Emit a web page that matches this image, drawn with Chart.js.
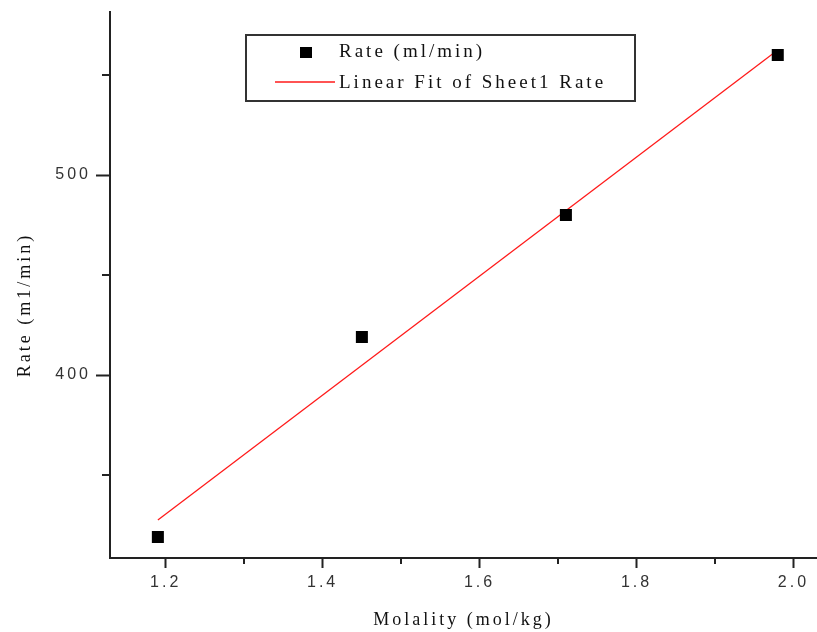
<!DOCTYPE html>
<html>
<head>
<meta charset="utf-8">
<script src="https://cdn.jsdelivr.net/npm/chart.js@4.4.1/dist/chart.umd.min.js"></script>
<style>
  html, body { margin: 0; padding: 0; background: #fff; }
  #wrap { width: 817px; height: 632px; }
</style>
</head>
<body>
<div id="wrap"><canvas id="rateChart"></canvas></div>
<script>
// measured rate against molality
const molality = [1.19, 1.45, 1.71, 1.98];
const rate = [319, 419, 480, 560];

// straight-line fit, two end points
const fitX = [1.19, 1.98];
const fitY = [327.5, 562.5];

const xTicks = [1.2, 1.4, 1.6, 1.8, 2.0];
const xMinor = [1.3, 1.5, 1.7, 1.9];
const yTicks = [400, 500];
const yMinor = [350, 450, 550];

const yTitle = 'Rate (m1/min)';

const axisColor = '#222';
const labelColor = '#333';
const serif = "'Liberation Serif', 'Times New Roman', serif";
const sans = "'Liberation Sans', Arial, sans-serif";

// wide, loosely spaced lettering for every label
const spacing = {
    id: 'spacing',
    beforeDraw(chart) {
        chart.ctx.letterSpacing = '3px';
    }
};

// short tick marks between the labelled ones
const minorTicks = {
    id: 'minorTicks',
    afterDraw(chart) {
        const ctx = chart.ctx;
        const x = chart.scales.x, y = chart.scales.y;
        const area = chart.chartArea;
        ctx.save();
        ctx.strokeStyle = axisColor;
        ctx.lineWidth = 2;
        ctx.beginPath();
        xMinor.forEach(v => {
            const px = Math.round(x.getPixelForValue(v));
            ctx.moveTo(px, area.bottom);
            ctx.lineTo(px, area.bottom + 6);
        });
        yMinor.forEach(v => {
            const py = Math.round(y.getPixelForValue(v));
            ctx.moveTo(area.left, py);
            ctx.lineTo(area.left - 8, py);
        });
        ctx.stroke();
        ctx.restore();
    }
};

// vertical axis title, sitting a little below the middle of the axis
const sideTitle = {
    id: 'sideTitle',
    afterDraw(chart) {
        const ctx = chart.ctx;
        const area = chart.chartArea;
        ctx.save();
        ctx.letterSpacing = '3px';
        ctx.font = '18px ' + serif;
        ctx.fillStyle = '#111';
        ctx.textAlign = 'center';
        ctx.textBaseline = 'middle';
        ctx.translate(25, (area.top + area.bottom) / 2 + 20);
        ctx.rotate(-Math.PI / 2);
        ctx.fillText(yTitle, 0, 0);
        ctx.restore();
    }
};

// boxed legend inside the plot
const boxLegend = {
    id: 'boxLegend',
    afterDraw(chart) {
        const ctx = chart.ctx;
        const ds = chart.data.datasets;
        const left = 246, top = 35, w = 389, h = 66;
        ctx.save();
        ctx.letterSpacing = '3px';
        ctx.strokeStyle = '#333';
        ctx.lineWidth = 2;
        ctx.strokeRect(left, top, w, h);

        ctx.font = '19px ' + serif;
        ctx.textBaseline = 'middle';

        // scatter entry
        ctx.fillStyle = ds[0].backgroundColor;
        ctx.fillRect(300, 47, 12, 11);
        ctx.fillStyle = '#111';
        ctx.fillText(ds[0].label, 339, 52);

        // fit entry
        ctx.strokeStyle = ds[1].borderColor;
        ctx.lineWidth = 1.5;
        ctx.beginPath();
        ctx.moveTo(275, 82);
        ctx.lineTo(335, 82);
        ctx.stroke();
        ctx.fillText(ds[1].label, 339, 83);
        ctx.restore();
    }
};

const ctx = document.getElementById('rateChart');
new Chart(ctx, {
    type: 'scatter',
    data: {
        datasets: [
            {
                label: 'Rate (ml/min)',
                data: molality.map((m, i) => ({ x: m, y: rate[i] })),
                pointStyle: 'rect',
                pointRadius: 8.5,
                backgroundColor: '#000',
                borderColor: '#000',
                borderWidth: 0,
                order: 0
            },
            {
                label: 'Linear Fit of Sheet1 Rate',
                type: 'line',
                data: fitX.map((m, i) => ({ x: m, y: fitY[i] })),
                borderColor: '#ff1a1a',
                borderWidth: 1.3,
                pointRadius: 0,
                fill: false,
                tension: 0,
                order: 1
            }
        ]
    },
    options: {
        responsive: true,
        maintainAspectRatio: false,
        animation: false,
        layout: { autoPadding: false, padding: { left: 0, right: 0, top: 12, bottom: 0 } },
        plugins: {
            legend: { display: false },
            tooltip: { enabled: false }
        },
        scales: {
            x: {
                type: 'linear',
                min: 1.129,
                max: 2.03,
                afterBuildTicks: scale => { scale.ticks = xTicks.map(v => ({ value: v })); },
                afterFit: scale => {
                    scale.height = 74;
                    scale.paddingLeft = 0;
                    scale.paddingRight = 0;
                },
                border: { color: axisColor, width: 2 },
                grid: { drawOnChartArea: false, drawTicks: true, tickLength: 10, tickWidth: 2, tickColor: axisColor },
                ticks: {
                    color: labelColor,
                    font: { family: sans, size: 16 },
                    padding: 5,
                    maxRotation: 0,
                    callback: v => v.toFixed(1)
                },
                title: {
                    display: true,
                    text: 'Molality (mol/kg)',
                    color: '#111',
                    font: { family: serif, size: 18 },
                    padding: { top: 0, bottom: 1 }
                }
            },
            y: {
                type: 'linear',
                min: 308.5,
                max: 581.5,
                afterBuildTicks: scale => { scale.ticks = yTicks.map(v => ({ value: v })); },
                afterFit: scale => {
                    scale.width = 110;
                    scale.paddingTop = 0;
                    scale.paddingBottom = 0;
                },
                border: { color: axisColor, width: 2 },
                grid: { drawOnChartArea: false, drawTicks: true, tickLength: 14, tickWidth: 2, tickColor: axisColor },
                ticks: {
                    color: labelColor,
                    font: { family: sans, size: 16 },
                    padding: 5
                },
                title: { display: false }
            }
        }
    },
    plugins: [spacing, minorTicks, sideTitle, boxLegend]
});
</script>
</body>
</html>
